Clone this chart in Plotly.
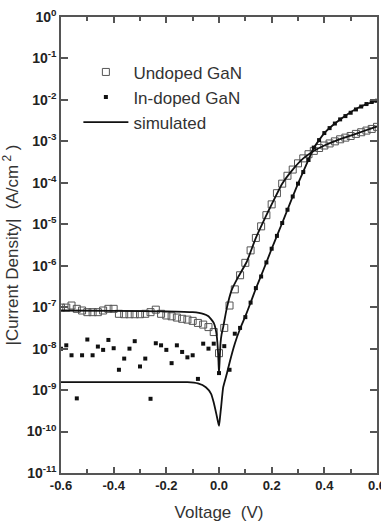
import plotly.graph_objects as go

# ---- data (log10 of |J| in A/cm^2) ----
v_meas = [-0.60, -0.58, -0.56, -0.54, -0.52, -0.50, -0.48, -0.46, -0.44, -0.42,
          -0.40, -0.38, -0.36, -0.34, -0.32, -0.30, -0.28, -0.26, -0.24, -0.22,
          -0.20, -0.18, -0.16, -0.14, -0.12, -0.10, -0.08, -0.06, -0.04, -0.02,
          0.00, 0.02, 0.04, 0.06, 0.08, 0.10, 0.12, 0.14, 0.16, 0.18,
          0.20, 0.22, 0.24, 0.26, 0.28, 0.30, 0.32, 0.34, 0.36, 0.38,
          0.40, 0.42, 0.44, 0.46, 0.48, 0.50, 0.52, 0.54, 0.56, 0.58, 0.60]

undoped_log = [-7.01, -7.01, -6.96, -7.04, -7.08, -7.12, -7.12, -7.12, -7.08, -7.04,
               -7.04, -7.16, -7.17, -7.17, -7.17, -7.17, -7.16, -7.12, -7.06, -7.16,
               -7.20, -7.22, -7.25, -7.28, -7.30, -7.33, -7.38, -7.42, -7.48, -7.60,
               -8.11, -7.50, -6.96, -6.57, -6.23, -5.93, -5.63, -5.33, -5.05, -4.78,
               -4.52, -4.25, -4.02, -3.83, -3.68, -3.53, -3.41, -3.31, -3.23, -3.16,
               -3.10, -3.05, -3.00, -2.95, -2.91, -2.87, -2.82, -2.78, -2.74, -2.70, -2.65]

indoped_log = [-8.00, -7.92, -8.16, -9.20, -8.16, -7.78, -8.16, -7.95, -8.03, -7.79,
               -7.99, -8.51, -8.24, -8.00, -7.82, -8.43, -8.24, -9.21, -7.87, -7.92,
               -8.03, -8.35, -7.92, -8.08, -8.21, -8.16, -8.73, -7.88, -8.00, -7.88,
               -8.59, -7.94, -8.51, -7.64, -7.50, -7.24, -6.89, -6.54, -6.26, -5.92,
               -5.59, -5.28, -4.97, -4.65, -4.33, -4.02, -3.74, -3.45, -3.15, -2.97,
               -2.80, -2.68, -2.57, -2.47, -2.39, -2.31, -2.23, -2.16, -2.10, -2.05, -2.02]

v_sim_u = [-0.60, -0.40, -0.20, -0.10, -0.06, -0.04, -0.02, -0.01, -0.005, -0.002, 0.0,
           0.003, 0.006, 0.01, 0.016, 0.029, 0.048, 0.073, 0.105, 0.14, 0.18, 0.20,
           0.24, 0.28, 0.32, 0.36, 0.40, 0.45, 0.50, 0.55, 0.60]
sim_u_log = [-7.08, -7.09, -7.10, -7.12, -7.16, -7.22, -7.38, -7.62, -7.95, -8.30, -8.60,
             -8.20, -7.85, -7.65, -7.48, -7.04, -6.59, -6.27, -5.91, -5.33, -4.78, -4.52,
             -4.02, -3.68, -3.41, -3.23, -3.10, -2.97, -2.86, -2.75, -2.64]

v_sim_i = [-0.60, -0.40, -0.20, -0.12, -0.08, -0.05, -0.03, -0.02, -0.01, -0.004, 0.0,
           0.004, 0.008, 0.016, 0.03, 0.042, 0.06, 0.08, 0.10, 0.12, 0.14, 0.16, 0.18,
           0.20, 0.22, 0.24, 0.26, 0.28, 0.30, 0.32, 0.34, 0.36, 0.38, 0.40, 0.44,
           0.48, 0.52, 0.56, 0.60]
sim_i_log = [-8.81, -8.81, -8.81, -8.81, -8.84, -8.93, -9.09, -9.30, -9.58, -9.76, -9.86,
             -9.65, -9.41, -8.93, -8.60, -8.29, -7.88, -7.52, -7.22, -6.89, -6.55, -6.24, -5.92,
             -5.59, -5.28, -4.97, -4.65, -4.33, -4.02, -3.73, -3.44, -3.16, -2.97, -2.80, -2.57,
             -2.38, -2.22, -2.10, -2.02]

x_tickvals = [-0.6, -0.4, -0.2, 0.0, 0.2, 0.4, 0.6]
x_ticktext = ["-0.6", "-0.4", "-0.2", "0.0", "0.2", "0.4", "0.6"]
y_exps = [0, -1, -2, -3, -4, -5, -6, -7, -8, -9, -10, -11]

def to_j(logs):
    return [10 ** v for v in logs]

TXT = "#333333"
AX = "#555555"
FONT = "Liberation Sans, Arial, sans-serif"

fig = go.Figure()
fig.add_trace(go.Scatter(
    x=v_meas, y=to_j(undoped_log), mode="markers", name="Undoped GaN",
    marker=dict(symbol="square-open", size=7, color="#555555", line=dict(width=1, color="#555555")),
))
fig.add_trace(go.Scatter(
    x=v_meas, y=to_j(indoped_log), mode="markers", name="In-doped GaN",
    marker=dict(symbol="square", size=4, color="#111111"),
))
fig.add_trace(go.Scatter(
    x=v_sim_u, y=to_j(sim_u_log), mode="lines", name="simulated",
    line=dict(color="#111111", width=1.8, shape="spline", smoothing=0.5),
))
fig.add_trace(go.Scatter(
    x=v_sim_i, y=to_j(sim_i_log), mode="lines", name="simulated", showlegend=False,
    line=dict(color="#111111", width=1.8, shape="spline", smoothing=0.5),
))

fig.update_layout(
    width=381, height=532,
    margin=dict(l=61, r=4, t=17, b=59, autoexpand=False),
    paper_bgcolor="white", plot_bgcolor="white",
    font=dict(family=FONT, color=TXT),
    legend=dict(x=0.055, y=0.918, xanchor="left", yanchor="top", itemwidth=45,
                bgcolor="rgba(0,0,0,0)", font=dict(size=17, color=TXT, family=FONT)),
    xaxis=dict(
        range=[-0.6, 0.6], showgrid=False, zeroline=False, automargin=False,
        showline=True, linecolor=AX, linewidth=1.5, mirror="ticks",
        ticks="inside", ticklen=6, tickwidth=1.5, tickcolor=AX,
        tickvals=x_tickvals, ticktext=x_ticktext, ticklabeloverflow="allow",
        tickfont=dict(size=13, family=FONT, color="#222222", weight="bold"),
        minor=dict(dtick=0.1, tick0=0, ticks="inside", ticklen=4, tickwidth=1.5, tickcolor=AX),
        title=dict(text="Voltage  (V)", font=dict(size=17, color=TXT, family=FONT), standoff=14),
    ),
    yaxis=dict(
        type="log", range=[-11, 0], showgrid=False, zeroline=False, automargin=False,
        showline=True, linecolor=AX, linewidth=1.5, mirror="ticks",
        ticks="inside", ticklen=7, tickwidth=1.5, tickcolor=AX,
        tickvals=[10 ** e for e in y_exps],
        ticktext=["10<sup>%d</sup>" % e for e in y_exps],
        tickfont=dict(size=14, family=FONT, color="#222222", weight="bold"),
        title=dict(text="|Current Density|  (A/cm<sup> 2</sup> )",
                   font=dict(size=17, color=TXT, family=FONT), standoff=8),
    ),
)

fig.write_html("out.html")
